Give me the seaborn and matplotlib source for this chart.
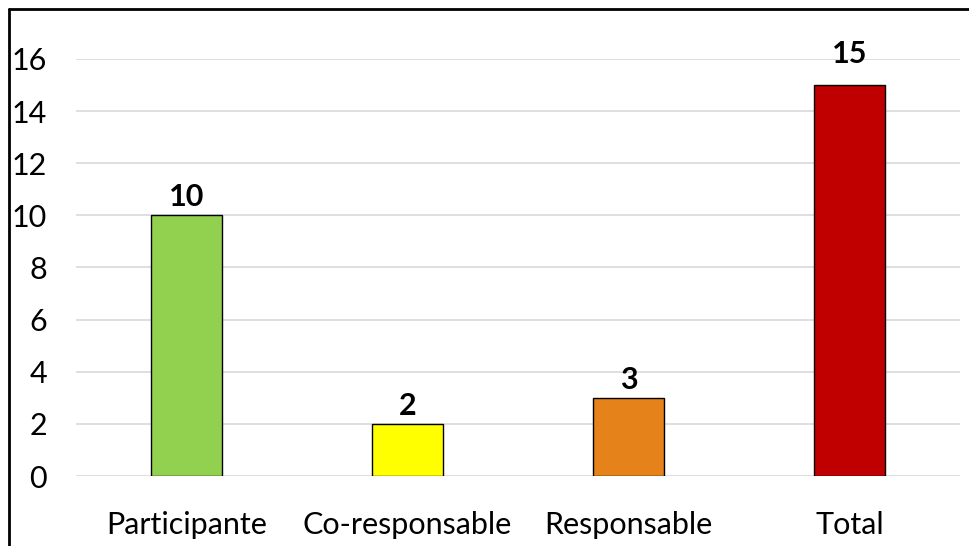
import matplotlib
matplotlib.use("Agg")
import matplotlib.pyplot as plt
from matplotlib.lines import Line2D
import seaborn as sns
import pandas as pd

categories = ["Participante", "Co-responsable", "Responsable", "Total"]
values = [10, 2, 3, 15]
colors = ["#92D050", "#FFFF00", "#E6821A", "#C00000"]
y_ticks = [0, 2, 4, 6, 8, 10, 12, 14, 16]

sns.set_theme(style="white")
plt.rcParams["font.family"] = ["Lato", "DejaVu Sans"]

df = pd.DataFrame({"categoria": categories, "valor": values})

fig = plt.figure(figsize=(9.69, 5.46), dpi=100)
ax = fig.add_axes([0.0784, 0.1282, 0.9123, 0.7638])

sns.barplot(data=df, x="categoria", y="valor", hue="categoria",
            palette=colors, edgecolor="black", linewidth=1.0,
            width=0.317, saturation=1, legend=False, ax=ax)

ax.set_ylim(0, 16)
ax.set_xlim(-0.5, len(categories) - 0.5)
ax.set_yticks(y_ticks)
ax.set_yticklabels([str(t) for t in y_ticks], fontsize=22, color="black")
ax.tick_params(axis="x", labelsize=22, colors="black", pad=25, length=0)
ax.tick_params(axis="y", pad=21, length=0)
ax.set_xlabel("")
ax.set_ylabel("")
ax.yaxis.grid(True, color="#D9D9D9", linewidth=1.2)
ax.set_axisbelow(True)
for s in ax.spines.values():
    s.set_visible(False)

# value labels; the tallest bar's label sits a little higher
for c in ax.containers:
    pad = 12 if max(c.datavalues) == max(values) else 3
    ax.bar_label(c, labels=[f"{v:g}" for v in c.datavalues],
                 fontsize=22, fontweight="bold", padding=pad, color="black")

# chart frame (left and top edges)
fig.add_artist(Line2D([0.0093, 0.0093], [0, 0.984], transform=fig.transFigure,
                      color="black", linewidth=2))
fig.add_artist(Line2D([0.0093, 1.0], [0.984, 0.984], transform=fig.transFigure,
                      color="black", linewidth=2))

fig.savefig("out.png", dpi=100)
